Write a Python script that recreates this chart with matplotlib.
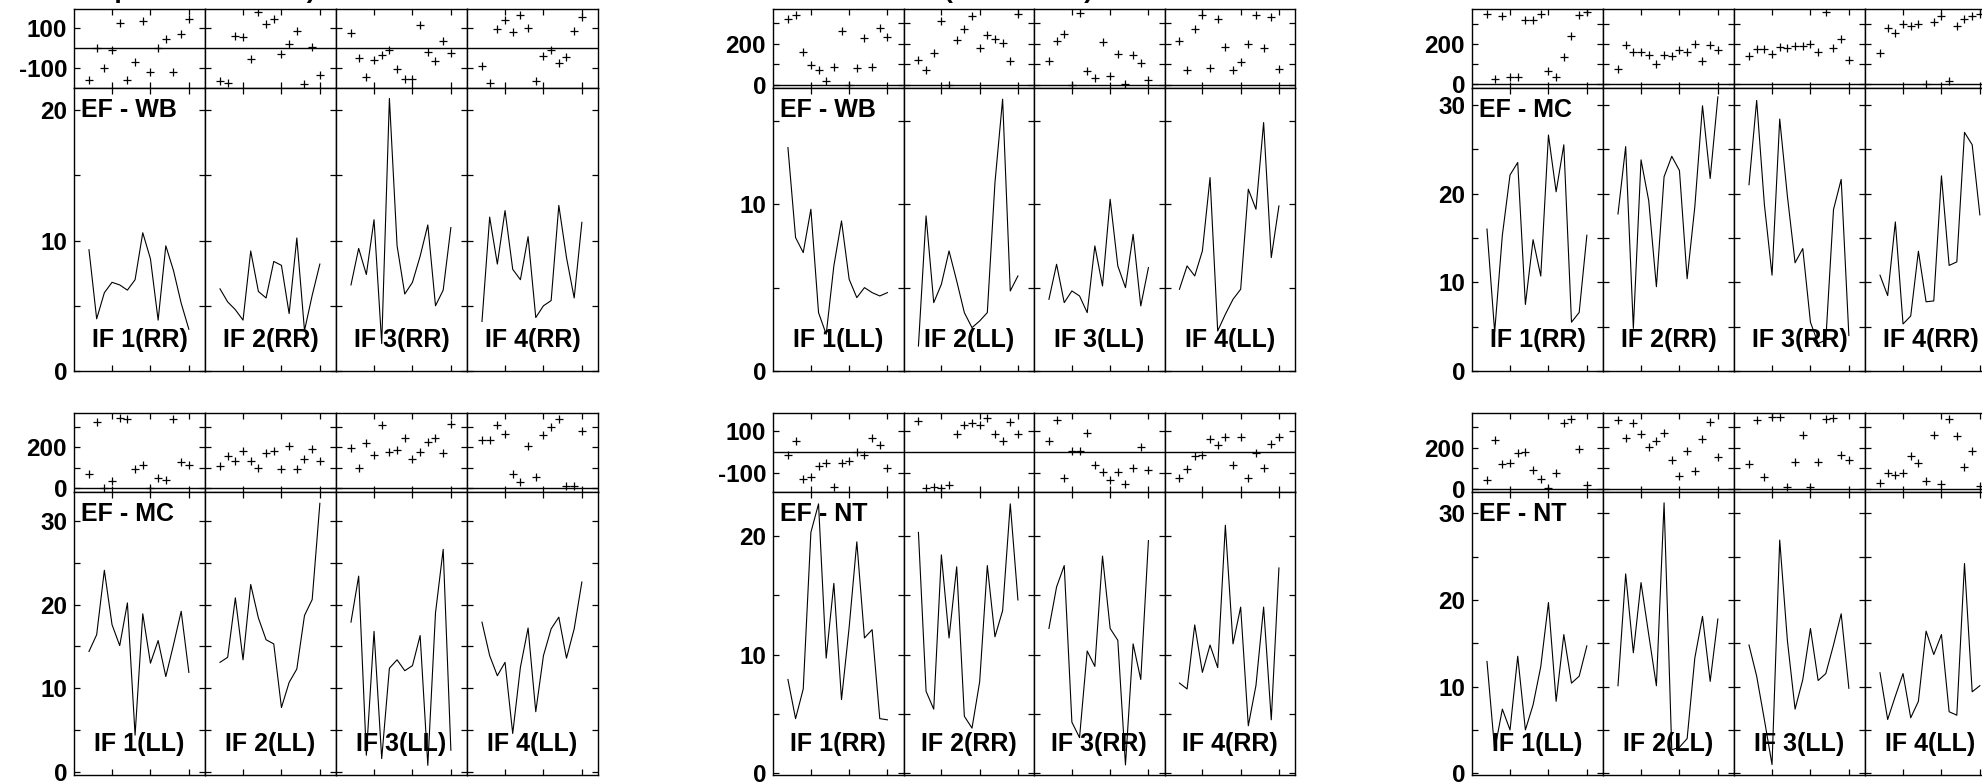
import matplotlib
matplotlib.use('Agg')
import matplotlib.pyplot as plt

plt.rcParams['font.family'] = ['Liberation Sans', 'DejaVu Sans']
plt.rcParams['font.weight'] = 'bold'

# ---------------- data ----------------
time_index = [0, 1, 2, 3, 4, 5, 6, 7, 8, 9, 10, 11, 12, 13]
time_ticks = [3, 8, 13]
if_names = ['IF 1', 'IF 2', 'IF 3', 'IF 4']

# EF - WB, RR
wb_rr_amp = [
    [9.3, 4.0, 6.0, 6.8, 6.6, 6.2, 7.0, 10.6, 8.6, 3.9, 9.6, 7.7, 5.2, 3.2],
    [6.3, 5.3, 4.7, 3.9, 9.2, 6.1, 5.6, 8.4, 8.1, 4.4, 10.2, 3.1, 5.8, 8.2],
    [6.6, 9.4, 7.4, 11.6, 2.1, 20.9, 9.6, 5.9, 6.8, 8.8, 11.2, 5.0, 6.2, 11.0],
    [3.8, 11.8, 8.2, 12.3, 7.8, 7.0, 10.3, 4.1, 5.0, 5.4, 12.7, 8.7, 5.6, 11.4],
]
wb_rr_phase = [
    [-161, 3, -102, -8, 127, -161, -71, 136, -120, 3, 46, -119, 73, 149],
    [-166, -175, 59, 56, -56, 181, 124, 147, -31, 22, 85, -181, 5, -137],
    [76, -51, -144, -59, -34, -12, -107, -156, -156, 119, -20, -63, 37, -24],
    [-93, -178, 97, 141, 80, 169, 102, -169, -42, -8, -73, -46, 85, 156],
]
# EF - WB, LL
wb_ll_amp = [
    [13.4, 8.0, 7.1, 9.7, 3.5, 2.2, 6.3, 9.0, 5.5, 4.4, 5.0, 4.7, 4.5, 4.7],
    [1.5, 9.3, 4.1, 5.2, 7.2, 5.4, 3.5, 2.6, 3.0, 3.5, 11.3, 16.3, 4.8, 5.7],
    [4.3, 6.4, 4.1, 4.8, 4.5, 3.5, 7.5, 5.1, 10.3, 6.3, 5.0, 8.2, 3.9, 6.2],
    [4.9, 6.3, 5.7, 7.2, 11.6, 2.4, 3.4, 4.3, 4.9, 10.9, 9.7, 14.9, 6.8, 9.9],
]
wb_ll_phase = [
    [319, 343, 159, 98, 70, 18, 86, 260, 0, 81, 229, 86, 276, 233],
    [119, 70, 154, 311, 0, 220, 273, 335, 180, 241, 224, 203, 114, 346],
    [115, 211, 249, 0, 350, 67, 33, 208, 41, 151, 5, 146, 107, 21],
    [213, 73, 273, 343, 81, 319, 184, 70, 111, 197, 343, 179, 330, 75],
]
# EF - MC, RR
mc_rr_amp = [
    [16.0, 4.4, 15.3, 22.1, 23.5, 7.5, 14.8, 10.7, 26.6, 20.2, 25.5, 5.5, 6.6, 15.3],
    [17.7, 25.3, 4.8, 23.8, 19.2, 9.5, 21.9, 24.2, 22.6, 10.4, 18.5, 29.9, 21.7, 30.9],
    [21.0, 30.5, 18.8, 10.8, 28.4, 19.7, 12.2, 13.8, 5.5, 3.1, 3.5, 18.2, 21.6, 4.0],
    [10.8, 8.5, 16.8, 5.3, 6.2, 13.5, 7.8, 7.9, 22.0, 11.9, 12.3, 26.9, 25.5, 17.6],
]
mc_rr_phase = [
    [347, 25, 335, 38, 38, 318, 318, 347, 67, 35, 135, 238, 343, 355],
    [77, 192, 160, 160, 147, 100, 147, 142, 172, 160, 200, 113, 192, 172],
    [138, 175, 175, 152, 185, 180, 188, 188, 197, 160, 355, 177, 225, 118],
    [155, 280, 255, 297, 288, 297, 0, 308, 338, 17, 288, 322, 338, 347],
]
# EF - MC, LL
mc_ll_amp = [
    [14.4, 16.4, 24.1, 17.6, 15.1, 20.2, 4.4, 18.9, 13.0, 15.7, 11.4, 15.2, 19.2, 11.9],
    [13.1, 13.7, 20.8, 13.4, 22.4, 18.4, 15.8, 15.3, 7.7, 10.7, 12.3, 18.7, 20.6, 32.1],
    [17.9, 23.4, 2.0, 16.8, 1.6, 12.4, 13.4, 12.1, 12.7, 16.3, 0.8, 19.0, 26.6, 2.6],
    [17.9, 13.9, 11.5, 13.1, 4.6, 12.5, 17.2, 7.2, 13.9, 17.1, 18.5, 13.6, 17.1, 22.7],
]
mc_ll_phase = [
    [70, 325, 0, 37, 346, 341, 93, 114, 3, 49, 41, 341, 130, 114],
    [109, 159, 135, 182, 135, 101, 171, 184, 93, 207, 93, 146, 195, 135],
    [198, 102, 223, 163, 309, 179, 190, 247, 146, 179, 228, 247, 174, 314],
    [239, 239, 309, 268, 68, 29, 207, 54, 260, 298, 338, 13, 13, 281],
]
# EF - NT, RR
nt_rr_amp = [
    [7.9, 4.6, 7.1, 20.3, 22.7, 9.7, 16.0, 6.2, 12.3, 19.5, 11.4, 12.1, 4.6, 4.5],
    [20.3, 6.9, 5.4, 18.4, 11.4, 17.4, 4.8, 3.8, 7.7, 17.5, 11.5, 13.7, 22.7, 14.6],
    [12.2, 15.7, 17.5, 4.3, 3.0, 10.3, 9.0, 18.3, 12.2, 11.2, 0.7, 10.9, 7.9, 19.6],
    [7.6, 7.1, 12.5, 8.5, 10.8, 8.9, 20.9, 10.9, 14.0, 4.0, 7.4, 14.0, 4.5, 17.3],
]
nt_rr_phase = [
    [-16, 51, -132, -122, -68, -52, -167, -52, -43, 0, -16, 68, 32, -76],
    [148, -175, -167, -171, -159, 87, 130, 138, 127, 163, 87, 51, 143, 87],
    [51, 154, -127, 5, 5, 90, -63, -95, -135, -95, -154, -79, 21, -87],
    [-127, -84, -19, -16, 63, 35, 71, -63, 71, -127, -5, -76, 37, 71],
]
# EF - NT, LL
nt_ll_amp = [
    [12.9, 2.7, 7.4, 5.0, 13.5, 5.0, 7.9, 12.3, 19.7, 8.3, 16.0, 10.4, 11.2, 14.7],
    [10.1, 23.0, 13.9, 22.0, 16.0, 10.1, 31.2, 2.7, 3.0, 4.0, 13.3, 18.1, 10.6, 17.8],
    [14.8, 11.2, 6.2, 1.0, 26.9, 15.3, 7.4, 10.8, 16.7, 10.7, 11.5, 14.8, 18.4, 9.8],
    [11.6, 6.2, 8.9, 11.5, 6.4, 8.3, 16.4, 13.7, 16.0, 7.1, 6.7, 24.2, 9.4, 10.1],
]
nt_ll_phase = [
    [44, 236, 123, 126, 175, 179, 93, 49, 3, 77, 320, 343, 195, 20],
    [336, 249, 323, 266, 205, 233, 274, 143, 64, 184, 85, 244, 328, 154],
    [121, 336, 57, 352, 352, 11, 130, 261, 11, 130, 343, 348, 167, 139],
    [28, 77, 66, 77, 162, 126, 41, 261, 23, 339, 257, 107, 184, 16],
]

# ---------------- layout ----------------
W, H = 1982, 783
fig = plt.figure(figsize=(W / 100, H / 100), dpi=100, facecolor='white')

PH_H = 79      # phase panel height (px)
AMP_H = 283    # amplitude panel height (px)

blocks = [
    dict(name='EF - WB', pol='RR', amp=wb_rr_amp, phase=wb_rr_phase,
         x0=74, pw=131, y0=9, amp_lim=(0, 21.7), amp_ticks=[0, 5, 10, 15, 20],
         amp_labels=[0, 10, 20], ph_lim=(-202, 198), ph_ticks=[-100, 100],
         ph_labels=[-100, 100]),
    dict(name='EF - WB', pol='LL', amp=wb_ll_amp, phase=wb_ll_phase,
         x0=773, pw=130.5, y0=9, amp_lim=(0, 16.97), amp_ticks=[0, 5, 10, 15],
         amp_labels=[0, 10], ph_lim=(-17, 370), ph_ticks=[0, 100, 200, 300],
         ph_labels=[0, 200]),
    dict(name='EF - MC', pol='RR', amp=mc_rr_amp, phase=mc_rr_phase,
         x0=1472, pw=131, y0=9, amp_lim=(0, 31.9), amp_ticks=[0, 5, 10, 15, 20, 25, 30],
         amp_labels=[0, 10, 20, 30], ph_lim=(-18, 372), ph_ticks=[0, 100, 200, 300],
         ph_labels=[0, 200]),
    dict(name='EF - MC', pol='LL', amp=mc_ll_amp, phase=mc_ll_phase,
         x0=74, pw=131, y0=413, amp_lim=(-0.36, 33.45), amp_ticks=[0, 5, 10, 15, 20, 25, 30],
         amp_labels=[0, 10, 20, 30], ph_lim=(-18, 369), ph_ticks=[0, 100, 200, 300],
         ph_labels=[0, 200]),
    dict(name='EF - NT', pol='RR', amp=nt_rr_amp, phase=nt_rr_phase,
         x0=773, pw=130.5, y0=413, amp_lim=(-0.15, 23.7), amp_ticks=[0, 5, 10, 15, 20],
         amp_labels=[0, 10, 20], ph_lim=(-192, 186), ph_ticks=[-100, 100],
         ph_labels=[-100, 100]),
    dict(name='EF - NT', pol='LL', amp=nt_ll_amp, phase=nt_ll_phase,
         x0=1472, pw=131, y0=413, amp_lim=(-0.2, 32.45), amp_ticks=[0, 5, 10, 15, 20, 25, 30],
         amp_labels=[0, 10, 20, 30], ph_lim=(-15, 370), ph_ticks=[0, 100, 200, 300],
         ph_labels=[0, 200]),
]

XLIM = (-1.95, 15.1)
TICK_FS = 17.5
LABEL_FS = 18


def style(ax, first):
    ax.set_xlim(*XLIM)
    ax.set_xticks(time_ticks)
    ax.tick_params(axis='both', direction='in', length=4, width=0.9,
                   top=True, right=True, bottom=True, left=True,
                   labelbottom=False, labelleft=first,
                   labelsize=TICK_FS, pad=5, colors='black')
    for sp in ax.spines.values():
        sp.set_linewidth(1.0)
        sp.set_color('black')


def fmt(ticks, labels):
    return [str(t) if t in labels else '' for t in ticks]


for b in blocks:
    for k in range(4):
        left = b['x0'] + k * b['pw']
        # phase panel
        axp = fig.add_axes([left / W, 1 - (b['y0'] + PH_H) / H, b['pw'] / W, PH_H / H])
        axp.plot(time_index, b['phase'][k], linestyle='none', marker='+',
                 markersize=6, markeredgewidth=0.9, color='black')
        axp.axhline(0, color='black', lw=1.0)
        axp.set_ylim(*b['ph_lim'])
        axp.set_yticks(b['ph_ticks'])
        axp.set_yticklabels(fmt(b['ph_ticks'], b['ph_labels']), fontweight='bold')
        style(axp, k == 0)

        # amplitude panel
        axa = fig.add_axes([left / W, 1 - (b['y0'] + PH_H + AMP_H) / H, b['pw'] / W, AMP_H / H])
        axa.plot(time_index, b['amp'][k], color='black', lw=0.8)
        axa.set_ylim(*b['amp_lim'])
        axa.set_yticks(b['amp_ticks'])
        axa.set_yticklabels(fmt(b['amp_ticks'], b['amp_labels']), fontweight='bold')
        style(axa, k == 0)

        axa.text(0.5, 31 / AMP_H, f"{if_names[k]}({b['pol']})", transform=axa.transAxes,
                 ha='center', va='center', fontsize=LABEL_FS, fontweight='bold')
        if k == 0:
            axa.text(7 / b['pw'], 1 - 22 / AMP_H, b['name'], transform=axa.transAxes,
                     ha='left', va='center', fontsize=LABEL_FS, fontweight='bold')

# titles cut off at the top edge (only descenders visible)
fig.text(316 / W, 1 + 2.2 / H, 'Amplitude vs. time)', ha='right', va='baseline',
         fontsize=19, fontweight='bold')
fig.text(944 / W, 1 + 2.2 / H, '(LL and RR)', ha='left', va='baseline',
         fontsize=19, fontweight='bold')

fig.savefig('out.png', dpi=100, facecolor='white')
